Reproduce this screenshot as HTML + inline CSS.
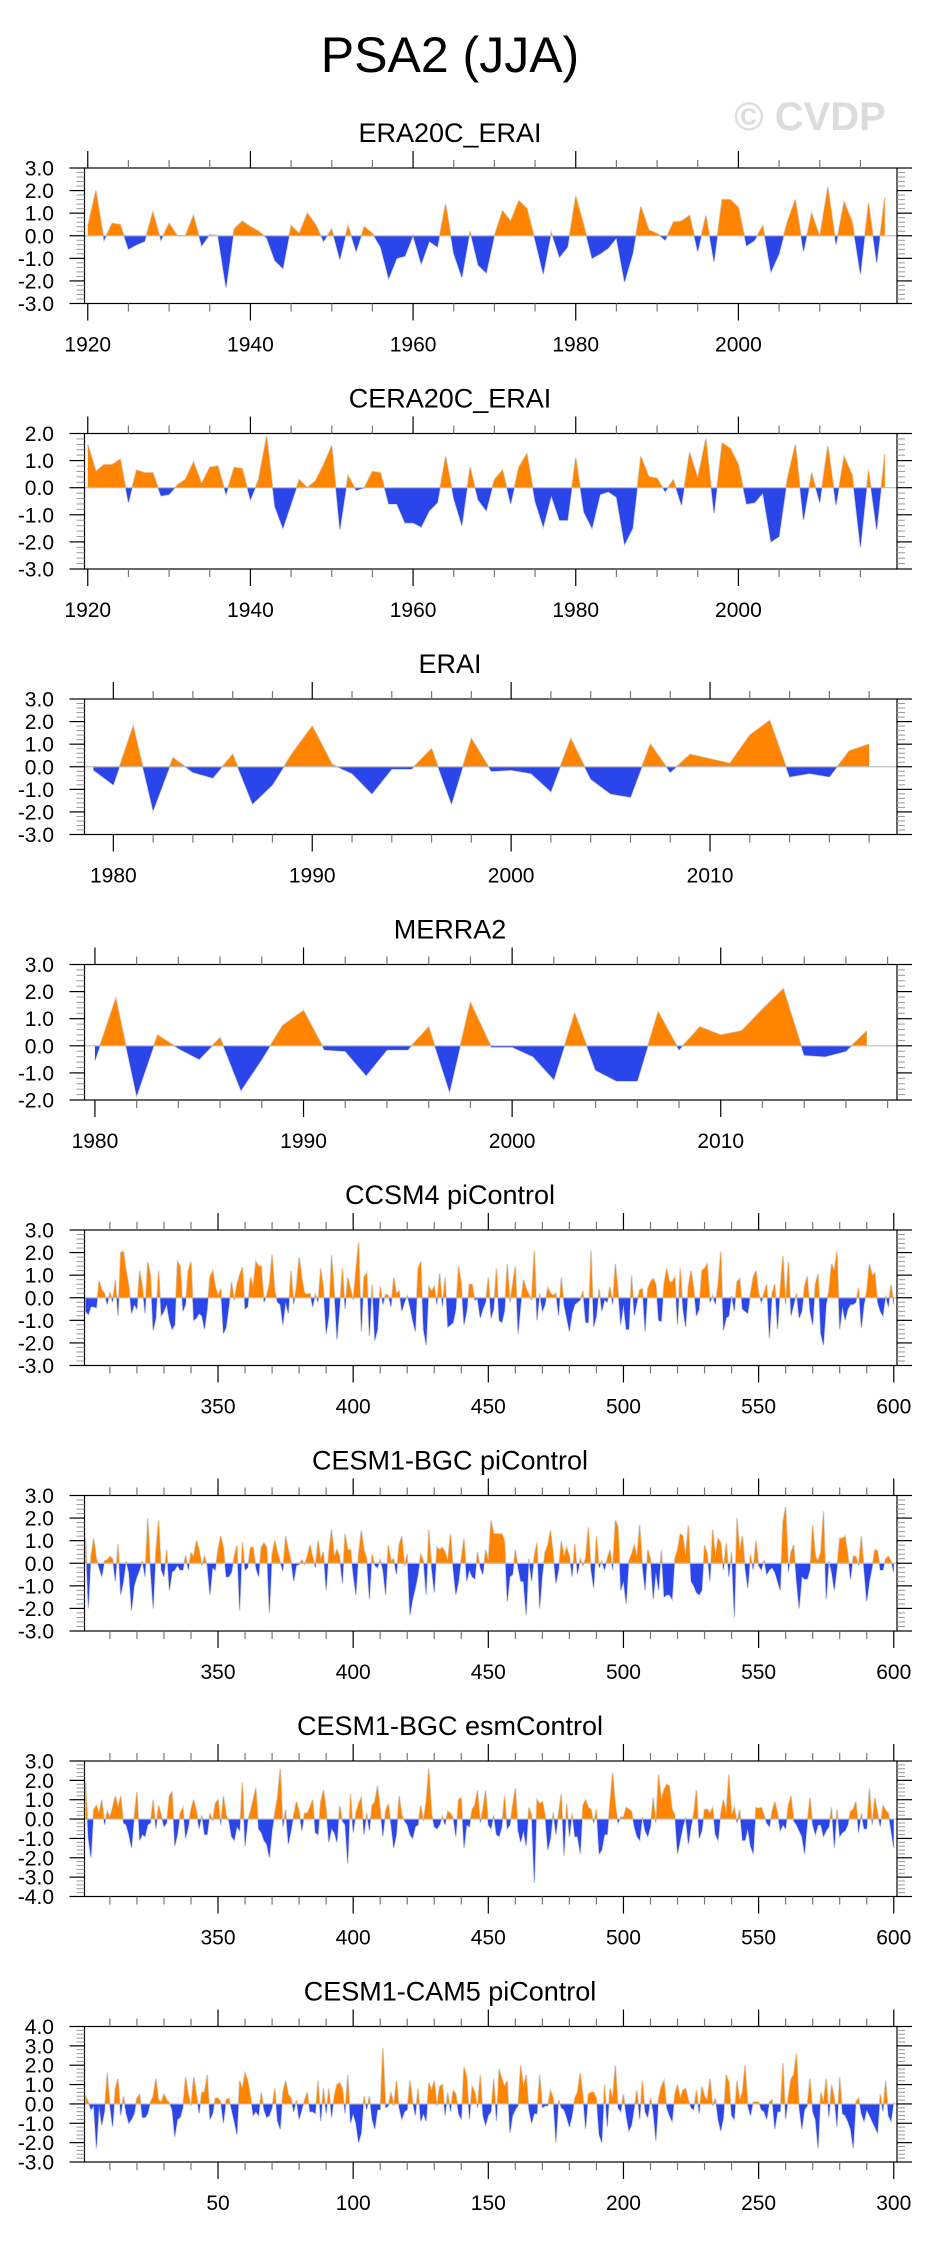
<!DOCTYPE html>
<html><head><meta charset="utf-8"><style>
html,body{margin:0;padding:0;background:#fff;}
svg{display:block;font-family:"Liberation Sans",Arial,sans-serif;}
</style></head><body>
<svg id="chart" width="930" height="2241" viewBox="0 0 930 2241" xmlns="http://www.w3.org/2000/svg">
<text x="450" y="72" font-size="50" text-anchor="middle" fill="#000">PSA2 (JJA)</text>
<text x="810" y="130" font-size="40" font-weight="bold" text-anchor="middle" fill="#dcdcdc">© CVDP</text>
</svg>
<script>
const era20cStart = 1920;
const era20cValues = [0.4,2.0,-0.2,0.55,0.5,-0.6,-0.4,-0.25,1.05,-0.2,0.55,0.0,0.0,0.9,-0.45,0.05,0.0,-2.3,0.3,0.65,0.4,0.2,-0.1,-1.1,-1.45,0.45,0.1,1.0,0.5,-0.25,0.3,-1.05,0.45,-0.7,0.4,0.1,-0.5,-1.9,-1.0,-0.9,0.0,-1.25,-0.25,-0.5,1.4,-0.8,-1.85,0.2,-1.3,-1.65,0.0,1.1,0.65,1.55,1.2,-0.2,-1.7,0.15,-0.95,-0.5,1.75,0.45,-1.0,-0.8,-0.55,-0.1,-2.05,-0.8,1.3,0.25,0.1,-0.2,0.6,0.65,0.9,-0.7,0.9,-1.15,1.6,1.6,1.25,-0.45,-0.2,0.45,-1.6,-0.8,0.6,1.6,-0.7,1.0,-0.05,2.15,-0.4,1.5,0.6,-1.7,1.45,-1.2,1.7];
const cera20cStart = 1920;
const cera20cValues = [1.6,0.6,0.85,0.85,1.05,-0.55,0.65,0.55,0.55,-0.3,-0.25,0.1,0.3,0.95,0.15,0.75,0.8,-0.25,0.75,0.7,-0.45,0.3,1.9,-0.7,-1.5,-0.6,0.3,0.0,0.25,0.85,1.55,-1.55,0.45,-0.1,0.0,0.6,0.55,-0.6,-0.6,-1.3,-1.3,-1.45,-0.85,-0.55,1.15,-0.4,-1.4,0.75,-0.45,-0.85,0.3,0.65,-0.6,0.75,1.25,-0.5,-1.45,-0.3,-1.2,-1.2,1.1,-0.9,-1.5,-0.25,-0.15,-0.35,-2.1,-1.5,1.15,0.4,0.35,-0.15,0.3,-0.65,1.3,0.35,1.8,-0.95,1.65,1.45,0.85,-0.6,-0.55,-0.2,-2.0,-1.8,0.3,1.6,-1.2,0.55,-0.55,1.55,-0.65,1.15,0.45,-2.2,0.65,-1.55,1.25];
const eraiStart = 1979;
const eraiValues = [-0.15,-0.8,1.8,-1.95,0.4,-0.25,-0.5,0.55,-1.65,-0.8,0.6,1.8,0.1,-0.3,-1.2,-0.1,-0.1,0.8,-1.65,1.25,-0.2,-0.15,-0.3,-1.1,1.25,-0.55,-1.2,-1.35,1.0,-0.25,0.55,0.35,0.15,1.4,2.05,-0.45,-0.3,-0.45,0.7,1.0];
const merra2Start = 1980;
const merra2Values = [-0.55,1.75,-1.85,0.4,-0.1,-0.5,0.3,-1.65,-0.5,0.75,1.3,-0.15,-0.2,-1.1,-0.15,-0.15,0.7,-1.7,1.6,-0.05,-0.05,-0.4,-1.25,1.2,-0.9,-1.3,-1.3,1.25,-0.15,0.7,0.4,0.55,1.35,2.1,-0.35,-0.4,-0.2,0.55];
const ccsm4Start = 301;
const ccsm4Values = [-0.6,-0.75,-0.4,-0.4,-0.45,0.75,0.35,0.2,-0.3,0.25,-0.2,0.8,-0.8,2.0,2.05,1.2,0.5,-0.7,-0.3,-0.5,1.2,0.5,-0.7,1.6,1.0,-1.45,-0.9,1.2,-0.8,-0.6,-0.3,-1.0,-1.4,-1.2,1.6,1.4,-0.6,-0.3,1.2,1.6,-1.0,-0.9,-0.7,-0.8,-1.4,-0.5,0.9,1.2,0.5,0.1,0.4,-1.6,-1.3,-0.4,0.7,-0.1,0.6,1.0,1.35,-0.5,-0.4,0.9,0.5,1.6,1.4,1.4,-0.2,0.1,0.6,1.9,0.3,-0.2,-0.3,-1.2,-0.2,-0.7,1.2,-0.3,0.5,1.8,0.9,0.2,0.15,0.2,-0.4,0.15,-0.2,1.3,0.4,-1.6,-0.8,1.9,0.3,-1.85,-0.4,1.3,-0.5,0.9,0.4,-0.1,1.2,2.45,-1.5,0.9,1.1,-1.7,0.6,-1.9,-1.4,0.5,-0.3,0.15,0.1,-0.4,0.9,0.2,0.3,-0.6,-0.2,0.1,-0.4,-1.0,-1.5,1.3,1.6,-1.4,-2.1,0.5,0.3,0.5,-0.3,1.1,-0.4,0.9,-1.3,-1.2,-1.1,-0.5,1.4,0.6,-1.2,-0.6,0.6,0.6,-0.1,-0.05,-0.9,-0.5,-0.2,0.9,-0.9,-0.5,1.3,
-1.0,-1.1,-0.6,1.5,-0.2,0.6,1.4,-1.6,-0.3,0.8,0.4,0.15,-0.1,2.1,-1.0,0.2,-0.6,-0.3,0.45,0.2,0.1,0.2,-0.8,0.9,-0.3,-0.9,-1.5,-0.7,-0.3,-0.2,-0.1,0.3,-1.1,-1.1,2.1,-1.3,-0.8,0.4,-0.6,-0.1,-0.2,0.5,-0.3,1.5,0.3,-1.2,-0.3,-1.4,-1.4,1.0,-0.8,-0.2,0.35,0.4,-1.5,0.4,0.7,0.85,0.6,-1.0,-1.05,0.6,1.3,0.7,0.7,0.9,-1.2,1.3,-0.5,-1.3,0.5,1.2,0.4,-0.8,-0.5,1.2,1.3,1.5,-0.2,0.1,-0.3,0.6,2.05,-1.45,-0.9,-0.8,0.1,-0.6,0.7,0.85,-0.5,-0.6,-0.7,0.2,0.9,1.2,0.2,-0.2,0.2,0.6,-1.8,0.2,0.6,-1.4,0.4,1.85,-0.3,1.6,-0.8,-0.3,0.2,-0.9,-0.6,0.5,0.95,-0.6,-1.2,0.6,1.05,-1.6,-2.1,-0.3,0.3,1.5,1.2,2.05,-1.4,-0.4,-1.0,-0.5,-0.3,-0.3,-0.2,0.45,-1.35,-0.3,0.3,1.5,1.0,1.1,-0.2,-0.6,-0.8,0.1,-0.4,0.6,-0.3];
const bgcPiStart = 301;
const bgcPiValues = [1.1,-2.0,0.3,1.1,0.2,-0.2,-0.6,0.1,0.15,0.3,0.2,-0.8,0.85,-1.4,-0.8,0.1,-0.4,-2.1,-1.0,-0.6,-0.3,0.1,-0.6,2.0,-0.3,-2.0,0.5,1.9,-0.3,-0.6,0.6,-1.2,-0.4,-0.3,-0.1,-0.3,-0.3,0.35,-0.3,0.45,0.3,1.0,0.6,-0.1,0.3,-0.1,-1.4,-0.2,-0.3,0.6,1.2,0.7,-0.6,-0.6,-0.4,0.3,0.8,-2.1,0.95,-0.3,-0.2,0.7,0.7,-0.2,-0.6,0.7,0.9,0.7,-2.2,0.4,1.0,0.5,0.05,-0.35,1.2,0.6,0.1,-0.8,-0.1,-0.05,0.15,-0.05,0.3,0.8,0.3,-0.2,1.0,0.2,0.5,-1.2,0.5,1.5,0.3,0.6,0.3,-0.9,1.3,0.6,0.6,-0.5,-1.4,0.4,1.45,0.6,0.2,-1.6,0.4,-0.1,-0.2,0.15,-0.3,-1.4,0.8,0.1,0.2,-0.5,0.8,1.2,-0.1,0.4,-2.3,-1.6,-1.1,-0.5,0.4,0.1,-1.4,1.5,-0.2,-1.3,0.7,0.6,0.7,0.5,0.1,1.3,-0.3,-1.4,-0.8,0.2,1.1,-0.8,-0.3,-0.6,-0.7,0.5,-0.2,-0.5,0.6,0.1,1.9,1.3,1.3,
1.3,1.3,1.0,-1.7,-0.6,-0.5,0.6,-0.2,-0.8,-0.8,-2.3,0.2,-0.8,0.3,0.9,-2.0,-0.5,0.5,0.8,1.45,0.4,-0.9,-0.3,1.0,0.3,0.7,0.3,-0.6,0.85,-0.5,0.2,-0.1,0.2,1.6,-0.3,-1.1,1.2,-0.2,0.1,-0.3,0.2,0.6,-0.3,1.9,1.6,-1.2,-0.8,-1.8,0.1,0.4,0.8,0.3,1.7,-0.1,-1.2,0.6,0.2,-1.6,-0.4,-1.2,0.6,-1.5,-1.4,-1.4,-1.6,0.2,0.6,1.3,1.2,0.3,1.7,-0.8,-1.0,-1.3,-1.4,-1.2,0.8,0.4,-0.8,1.5,0.3,1.1,0.9,-0.3,0.9,-0.6,0.5,-2.4,2.0,0.5,1.2,-0.2,-1.1,0.4,-0.3,1.0,-0.1,-0.3,0.15,-0.5,-0.3,-0.2,-0.4,-0.8,-1.2,1.8,2.5,-0.4,0.5,0.8,-0.8,-2.0,-0.6,-0.7,-0.7,-0.3,1.7,0.3,0.1,0.5,2.3,-1.6,0.1,-0.4,-1.2,-0.2,1.1,1.1,1.2,0.4,-0.7,0.3,0.3,-0.1,1.2,-0.3,-1.7,-0.8,-0.2,0.6,0.55,-0.3,-0.3,0.2,0.3,0.1,-0.4];
const bgcEsmStart = 301;
const bgcEsmValues = [1.9,-1.0,-2.0,0.5,0.7,0.3,1.0,-0.3,0.4,0.1,0.6,1.2,0.6,1.2,-0.2,-0.3,-0.8,-1.5,0.1,1.4,-1.1,-0.8,-0.9,-0.3,-0.2,1.0,-0.5,0.7,0.2,-0.4,-0.2,1.2,1.4,-1.4,-0.8,0.3,0.6,-1.0,-0.4,0.5,1.0,0.4,-0.5,0.2,-0.8,-0.8,0.3,-0.1,0.8,1.0,-0.3,1.2,0.2,-0.1,-0.9,-1.1,-0.4,-0.6,1.9,-1.4,-0.1,0.4,1.0,1.6,-0.5,-0.7,-1.1,-1.3,-2.0,-0.6,0.3,1.1,2.6,-0.4,0.5,-1.3,-0.6,0.2,0.9,0.4,-0.6,0.3,0.3,0.6,1.0,-0.7,-0.8,0.9,1.5,0.5,-1.2,-0.5,-0.7,-1.2,0.7,-0.1,-0.3,-2.3,1.3,-0.7,0.3,0.8,1.1,-0.8,0.3,-0.6,0.7,0.9,1.7,0.5,-0.9,0.4,0.8,-0.3,-1.5,-0.8,1.2,0.2,-0.1,-0.3,-0.8,-1.0,-0.4,-0.3,0.7,-0.1,0.9,2.6,0.3,-0.4,-0.5,-0.3,0.15,-0.3,0.4,0.3,0.05,-0.9,1.0,1.1,-1.5,-0.3,-0.4,0.5,0.7,1.5,-0.2,0.5,1.5,-0.3,-0.5,0.2,-0.8,
-0.9,-0.4,1.2,-0.5,-0.3,0.7,1.6,-0.6,-1.2,-0.6,-1.4,0.6,0.2,-3.3,1.0,0.8,0.9,0.2,-1.6,-1.0,0.35,-0.8,0.3,1.3,-1.9,0.8,-0.9,0.3,-0.9,-0.9,-1.8,0.7,1.0,0.6,0.5,-0.2,0.5,-1.8,-1.6,-0.8,-0.8,0.8,2.4,0.7,-0.2,0.1,0.1,0.6,0.5,0.4,-0.4,-0.9,-1.1,0.1,-0.6,-0.9,-0.4,1.1,-0.2,2.3,1.0,1.5,1.8,1.7,0.5,0.2,-1.8,-1.1,-0.4,0.1,-1.3,-0.4,0.3,1.5,-1.0,-0.6,0.5,0.5,0.3,0.6,-0.8,-1.1,0.3,1.0,0.3,2.3,0.2,0.6,-0.2,0.5,-1.1,-1.1,-0.5,-1.4,-1.8,0.6,0.55,0.6,0.2,-0.2,-0.4,0.4,0.9,0.3,-0.6,-0.3,-0.5,0.7,1.2,-0.1,-0.3,-0.6,-0.9,-1.8,-0.2,1.1,-0.3,-0.8,-0.3,-0.3,-0.9,-0.6,-0.4,0.6,-1.5,0.5,-0.9,-0.7,-0.6,-0.3,0.4,0.5,0.9,-0.7,0.3,-0.5,-0.5,1.6,-0.3,1.1,0.3,-0.4,0.7,0.45,0.3,-0.6,-1.5];
const cam5Start = 1;
const cam5Values = [0.4,0.1,-0.3,-0.1,-2.3,-0.1,-1.1,-0.4,1.6,-0.1,-1.2,0.8,1.3,-0.6,0.4,-0.5,-1.0,-0.8,-0.5,0.3,0.5,-0.7,-0.7,-0.5,0.1,0.4,1.3,0.2,0.1,0.5,0.2,0.05,-0.3,-1.7,-0.8,-0.7,-0.2,1.4,0.5,-0.1,1.4,0.5,-0.5,0.6,0.6,1.5,-0.8,-0.5,0.3,0.3,0.1,-1.0,0.2,0.3,-0.3,-0.9,-1.6,1.2,0.8,1.6,1.2,0.4,-0.6,-0.4,-0.6,0.6,-0.3,-0.7,-0.6,-0.2,0.8,-0.9,-1.3,0.6,1.2,0.5,0.3,-0.4,0.2,-0.8,-0.3,0.2,0.6,-0.4,-0.4,-0.5,1.2,-0.9,0.8,-0.5,0.8,-0.7,0.4,1.0,1.1,0.8,-0.5,1.5,-1.0,-0.5,-1.0,-2.0,-1.5,0.4,-0.3,0.4,-0.8,-1.3,-0.3,-0.3,2.9,-0.2,-0.1,0.6,-0.1,1.2,-0.2,-0.8,-0.4,-0.3,1.2,0.1,-0.6,0.8,-0.9,-0.5,-0.9,1.1,0.7,1.2,-0.1,0.9,1.0,-0.6,0.6,-0.4,0.7,0.5,-0.5,-0.8,1.9,1.4,-0.8,0.9,0.6,-0.2,1.5,-0.6,-1.1,-0.6,-0.4,1.3,-0.9,
1.8,1.3,0.9,1.2,-1.5,-0.6,-0.3,-0.1,2.0,0.9,1.5,-0.3,-1.0,-0.5,-0.5,1.5,-0.2,-0.1,-0.1,0.7,0.3,-2.0,0.2,-0.2,-0.3,-0.7,-1.2,-0.6,0.3,0.6,1.6,0.4,-1.3,0.5,0.6,0.6,0.3,-1.6,-2.0,1.0,-1.2,0.8,0.3,2.0,-0.2,-0.4,0.5,-0.6,-1.4,-1.1,-0.2,0.7,-0.8,1.2,-0.4,-0.7,0.3,-0.4,-1.9,0.3,0.9,1.2,-0.2,-0.6,-0.9,0.5,1.0,0.3,0.7,0.8,0.2,-0.2,-0.3,0.7,-0.5,0.9,0.4,0.2,1.3,-0.1,0.3,-0.8,-1.4,-0.7,1.5,1.1,-0.6,-0.8,1.2,0.2,0.6,2.0,-0.1,-0.6,0.1,0.1,0.1,-0.3,-0.4,-0.8,0.1,0.2,-1.3,-0.4,-0.4,2.1,-0.8,0.4,1.3,1.5,2.6,-0.2,-1.3,-0.3,-0.1,1.3,-0.4,-0.8,-2.3,0.6,0.1,1.3,-0.7,1.0,0.3,-1.2,1.4,-0.5,-0.6,-0.9,-1.3,-2.3,0.1,0.3,-0.5,-0.9,-0.3,-0.6,-0.9,-1.2,-1.5,0.5,-0.4,1.2,-0.6,-0.9,0.1];

const panelTitles = ["ERA20C_ERAI","CERA20C_ERAI","ERAI","MERRA2","CCSM4 piControl","CESM1-BGC piControl","CESM1-BGC esmControl","CESM1-CAM5 piControl"];
const panelStarts = [era20cStart,cera20cStart,eraiStart,merra2Start,ccsm4Start,bgcPiStart,bgcEsmStart,cam5Start];
const panelSeries = [era20cValues,cera20cValues,eraiValues,merra2Values,ccsm4Values,bgcPiValues,bgcEsmValues,cam5Values];
const panelYMax = [3,2,3,3,3,3,3,4];
const panelYMin = [-3,-3,-3,-2,-3,-3,-4,-3];
const panelXMin = [1919.6,1919.6,1978.55,1979.5,300.6,300.6,300.6,0.6];
const panelXMax = [2019.5,2019.5,2019.4,2018.45,601.2,601.2,601.2,301.2];
const panelMajor = [20,20,10,10,50,50,50,50];
const panelMinor = [5,5,2,2,10,10,10,10];

const NS = "http://www.w3.org/2000/svg";
const svg = document.getElementById('chart');
const FL = 84.5, FR = 897, FH = 135.5;
const tops = [168,433.5,699,964.5,1230,1495.5,1761,2026.5];
function mk(tag, attrs, parent){const e=document.createElementNS(NS,tag);for(const k in attrs)e.setAttribute(k,attrs[k]);(parent||svg).appendChild(e);return e;}

panelSeries.forEach((vals, p) => {
  const top = tops[p], bot = top + FH;
  const ymin = panelYMin[p], ymax = panelYMax[p], xmin = panelXMin[p], xmax = panelXMax[p];
  const xs = v => FL + (v - xmin) / (xmax - xmin) * (FR - FL);
  const ys = v => top + (ymax - v) / (ymax - ymin) * FH;
  const g = mk('g', {});
  
  
  const t = mk('text', {x: 450, y: top - 26, 'font-size': 27, 'text-anchor': 'middle', fill: '#000'}, g);
  t.textContent = panelTitles[p];
  
  
  // points with zero crossings
  const pts = [];
  for (let i = 0; i < vals.length; i++) {
    const x = panelStarts[p] + i, v = vals[i];
    if (i > 0) { const pv = vals[i-1]; if ((pv > 0 && v < 0) || (pv < 0 && v > 0)) { const f = pv / (pv - v); pts.push([x - 1 + f, 0]); } }
    pts.push([x, v]);
  }
  const x0 = xs(pts[0][0]), x1 = xs(pts[pts.length-1][0]), z = ys(0);
  const line = mk('polyline', {points: pts.map(q => xs(q[0]).toFixed(2)+','+ys(q[1]).toFixed(2)).join(' '), fill: 'none', stroke: '#d4d4d4', 'stroke-width': 1.6}, g);
  
  
  const posPts = pts.map(q => xs(q[0]).toFixed(2)+','+ys(Math.max(q[1],0)).toFixed(2));
  const negPts = pts.map(q => xs(q[0]).toFixed(2)+','+ys(Math.min(q[1],0)).toFixed(2));
  const pos = mk('polygon', {points: x0+','+z+' '+posPts.join(' ')+' '+x1+','+z, fill: '#ff8400'}, g);
  
  
  const neg = mk('polygon', {points: x0+','+z+' '+negPts.join(' ')+' '+x1+','+z, fill: '#2a46ea'}, g);
  
  
  const zl = mk('line', {x1: FL, x2: FR, y1: z, y2: z, stroke: '#bdbdbd', 'stroke-width': 1.2}, g);
  
  
  const fr = mk('rect', {x: FL, y: top, width: FR-FL, height: FH, fill: 'none', stroke: '#000', 'stroke-width': 1.2}, g);
  
  
  // y ticks
  for (let k = Math.round(ymin*5); k <= Math.round(ymax*5); k++) {
    const v = k / 5, y = ys(v), major = (k % 5 === 0);
    const len = major ? 15 : 8, col = major ? '#000' : '#999';
    mk('line', {x1: FL-len, x2: FL, y1: y, y2: y, stroke: col, 'stroke-width': major?1.2:1}, g);
    mk('line', {x1: FR, x2: FR+len, y1: y, y2: y, stroke: col, 'stroke-width': major?1.2:1}, g);
    if (major) {
      const lb = mk('text', {x: 54, y: y + 7.5, 'font-size': 21, 'text-anchor': 'end', fill: '#000'}, g);
      lb.textContent = v.toFixed(1);
      
      
    }
  }
  // x ticks
  const mn = panelMinor[p], mj = panelMajor[p];
  for (let v = Math.ceil(xmin / mn) * mn; v <= xmax; v += mn) {
    const x = xs(v), major = (v % mj === 0);
    const len = major ? 17 : 8, col = major ? '#000' : '#777';
    mk('line', {x1: x, x2: x, y1: top-len, y2: top, stroke: col, 'stroke-width': 1.2}, g);
    mk('line', {x1: x, x2: x, y1: bot, y2: bot+len, stroke: col, 'stroke-width': 1.2}, g);
    if (major) {
      const lb = mk('text', {x: x, y: bot + 48, 'font-size': 21, 'text-anchor': 'middle', fill: '#000'}, g);
      lb.textContent = String(v);
      
      
    }
  }
});
</script>
</body></html>
